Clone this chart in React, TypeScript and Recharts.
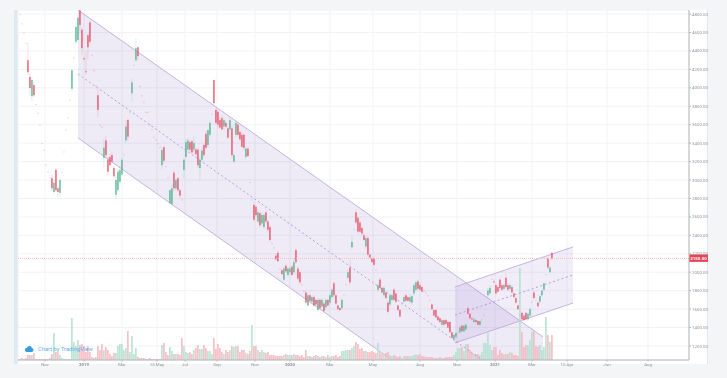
import { Area, Bar, CartesianGrid, ComposedChart, Line, ReferenceLine, XAxis, YAxis } from 'recharts';

const UP = '#45ae85';
const DOWN = '#e9435a';
const CHANNEL = '#c0add9';
const FONT = 'Roboto, "Liberation Sans", sans-serif';

// session index on the x axis, tick label for it
const xTickPositions = [13.5, 33, 52, 69.5, 83.5, 99.5, 118.5, 136, 156, 177.5, 201, 219.5, 238.5, 257, 274.5, 294.5, 315];
const xTickLabels = ['Nov', '2019', 'Mar', '15 May', 'Jul', 'Sep', 'Nov', '2020', 'Mar', 'May', 'Aug', 'Nov', '2021', 'Mar', '15 Apr', 'Jun', 'Aug'];
const yearLabels = ['2019', '2020', '2021'];
const priceTicks = [4800, 4600, 4400, 4200, 4000, 3800, 3600, 3400, 3200, 3000, 2800, 2600, 2400, 2200, 2000, 1800, 1600, 1400, 1200];
const lastPrice = 2150;

// open, high, low, close per session
const candles = [
  [4800, 4805, 4790, 4795], [4700, 4705, 4690, 4695], [4600, 4605, 4590, 4595], [4490, 4495, 4480, 4485], [4300, 4490, 4140, 4170], [4118, 4150, 3910, 3998], [3910, 4120, 3860, 4085], [4030, 4060, 3900, 3920], [3825, 3825, 3810, 3810], [3730, 3730, 3720, 3720],
  [3600, 3600, 3590, 3590], [3400, 3400, 3390, 3390], [3330, 3330, 3320, 3320], [3170, 3170, 3160, 3160], [3090, 3090, 3080, 3080], [3030, 3030, 3020, 3020], [3020, 3060, 2880, 2910], [2870, 3000, 2850, 2970], [3110, 3130, 2870, 2890], [2910, 2930, 2810, 2870],
  [2860, 3020, 2820, 3000], [3080, 3090, 3080, 3090], [3300, 3310, 3300, 3310], [3540, 3550, 3540, 3550], [3670, 3680, 3670, 3680], [3860, 3870, 3860, 3870], [3990, 4210, 3960, 4190], [4320, 4330, 4320, 4330], [4500, 4700, 4470, 4660], [4520, 4790, 4490, 4760],
  [4840, 4845, 4600, 4680], [4630, 4650, 4360, 4430], [4320, 4330, 4300, 4310], [4180, 4400, 4140, 4170], [4570, 4590, 4310, 4440], [4710, 4730, 4480, 4500], [4360, 4360, 4350, 4350], [4190, 4190, 4180, 4180], [4030, 4030, 4020, 4020], [3920, 3990, 3680, 3760],
  [3600, 3600, 3590, 3590], [3580, 3580, 3570, 3570], [3240, 3450, 3140, 3350], [3430, 3480, 3250, 3270], [3220, 3250, 3050, 3090], [3250, 3280, 3150, 3160], [3270, 3300, 3190, 3200], [3130, 3150, 3020, 3040], [2840, 3030, 2790, 3000], [2890, 3120, 2860, 3090],
  [2980, 3150, 2950, 3110], [3060, 3240, 3040, 3220], [3270, 3280, 3270, 3280], [3430, 3650, 3400, 3580], [3650, 3670, 3430, 3470], [3730, 3740, 3730, 3740], [3940, 4100, 3850, 4060], [4240, 4250, 4240, 4250], [4300, 4540, 4280, 4430], [4440, 4450, 4300, 4345],
  [4020, 4020, 4010, 4010], [3920, 3920, 3910, 3910], [3850, 3850, 3840, 3840], [3740, 3740, 3730, 3730], [3740, 3740, 3730, 3730], [3600, 3600, 3590, 3590], [3550, 3550, 3540, 3540], [3470, 3470, 3460, 3460], [3440, 3440, 3430, 3430], [3400, 3400, 3390, 3390],
  [3360, 3360, 3350, 3350], [3160, 3350, 3120, 3325], [3355, 3370, 3180, 3210], [3150, 3150, 3140, 3140], [3030, 3030, 3020, 3020], [2750, 2900, 2740, 2890], [2740, 2960, 2720, 2910], [3080, 3100, 2880, 2910], [2910, 3020, 2890, 3000], [3020, 3030, 2870, 2890],
  [2890, 2900, 2800, 2830], [2790, 2790, 2780, 2780], [3110, 3240, 3020, 3220], [3250, 3440, 3230, 3410], [3330, 3460, 3310, 3430], [3410, 3430, 3300, 3330], [3420, 3440, 3280, 3300], [3330, 3480, 3300, 3400], [3330, 3350, 3270, 3280], [3330, 3350, 3130, 3160],
  [3130, 3260, 3000, 3220], [3220, 3350, 3200, 3320], [3380, 3400, 3250, 3270], [3500, 3530, 3330, 3350], [3380, 3560, 3350, 3540], [3490, 3650, 3470, 3620], [3710, 3720, 3710, 3720], [4085, 4090, 3820, 3835], [3760, 3780, 3600, 3620], [3740, 3760, 3560, 3600],
  [3650, 3680, 3560, 3570], [3670, 3700, 3540, 3550], [3580, 3690, 3540, 3650], [3620, 3640, 3560, 3580], [3560, 3580, 3450, 3460], [3550, 3680, 3520, 3650], [3560, 3590, 3240, 3270], [3200, 3290, 3180, 3270], [3490, 3650, 3470, 3620], [3600, 3620, 3470, 3490],
  [3520, 3540, 3430, 3440], [3490, 3510, 3350, 3360], [3490, 3510, 3320, 3350], [3250, 3360, 3230, 3340], [3340, 3360, 3250, 3260], [2980, 2980, 2970, 2970], [2780, 2790, 2780, 2790], [2730, 2760, 2550, 2570], [2710, 2730, 2600, 2620], [2550, 2680, 2530, 2650],
  [2640, 2660, 2490, 2510], [2530, 2650, 2500, 2620], [2490, 2640, 2470, 2620], [2650, 2680, 2530, 2550], [2550, 2570, 2440, 2460], [2490, 2510, 2330, 2350], [2320, 2320, 2310, 2310], [2270, 2270, 2260, 2260], [2180, 2200, 2130, 2140], [2210, 2230, 2110, 2120],
  [2040, 2040, 2030, 2030], [2020, 2040, 1970, 1980], [1920, 2070, 1900, 2040], [2070, 2090, 2000, 2010], [1970, 2060, 1950, 2040], [2000, 2060, 1980, 2040], [2060, 2080, 1960, 1970], [2000, 2150, 1980, 2110], [2240, 2260, 2090, 2110], [2040, 2060, 1910, 1930],
  [2000, 2020, 1870, 1890], [1870, 1870, 1860, 1860], [1800, 1800, 1790, 1790], [1780, 1800, 1650, 1670], [1640, 1780, 1620, 1750], [1750, 1770, 1680, 1690], [1680, 1750, 1660, 1730], [1730, 1750, 1620, 1640], [1700, 1710, 1640, 1650], [1590, 1720, 1570, 1700],
  [1700, 1720, 1600, 1610], [1630, 1720, 1610, 1700], [1660, 1680, 1570, 1580], [1620, 1720, 1600, 1700], [1700, 1710, 1630, 1640], [1670, 1770, 1650, 1750], [1730, 1830, 1710, 1810], [1880, 1900, 1730, 1750], [1750, 1760, 1640, 1660], [1640, 1650, 1590, 1600],
  [1610, 1620, 1580, 1590], [1610, 1720, 1590, 1700], [1750, 1760, 1750, 1760], [1860, 1870, 1860, 1870], [1940, 2030, 1920, 2000], [2050, 2130, 1870, 1890], [2270, 2400, 2250, 2330], [2460, 2470, 2460, 2470], [2650, 2680, 2520, 2540], [2590, 2610, 2420, 2440],
  [2540, 2560, 2430, 2440], [2480, 2500, 2400, 2420], [2400, 2420, 2340, 2350], [2280, 2390, 2260, 2370], [2370, 2390, 2170, 2190], [2190, 2200, 2150, 2160], [2150, 2160, 2100, 2110], [2150, 2170, 2060, 2080], [2030, 2030, 2020, 2020], [1810, 1890, 1790, 1860],
  [1920, 1940, 1820, 1830], [1830, 1840, 1770, 1780], [1750, 1850, 1730, 1830], [1780, 1800, 1710, 1720], [1670, 1690, 1550, 1570], [1650, 1770, 1630, 1750], [1700, 1770, 1680, 1750], [1810, 1830, 1690, 1700], [1770, 1790, 1670, 1680], [1640, 1650, 1580, 1590],
  [1590, 1600, 1510, 1520], [1640, 1650, 1640, 1650], [1680, 1750, 1660, 1730], [1750, 1770, 1680, 1690], [1730, 1740, 1680, 1690], [1680, 1760, 1660, 1730], [1670, 1760, 1650, 1740], [1770, 1880, 1750, 1860], [1810, 1910, 1790, 1890], [1900, 1920, 1810, 1820],
  [1860, 1880, 1800, 1810], [1840, 1850, 1780, 1790], [1800, 1800, 1790, 1790], [1780, 1780, 1770, 1770], [1750, 1750, 1740, 1740], [1700, 1700, 1690, 1690], [1650, 1660, 1590, 1600], [1590, 1600, 1520, 1530], [1590, 1600, 1500, 1510], [1520, 1530, 1470, 1480],
  [1500, 1510, 1450, 1460], [1430, 1500, 1420, 1480], [1480, 1490, 1420, 1430], [1480, 1490, 1430, 1440], [1460, 1470, 1390, 1400], [1460, 1470, 1340, 1350], [1350, 1360, 1280, 1290], [1270, 1340, 1250, 1320], [1300, 1360, 1280, 1340], [1340, 1350, 1340, 1350],
  [1350, 1420, 1330, 1400], [1420, 1430, 1350, 1360], [1360, 1440, 1340, 1420], [1380, 1450, 1370, 1430], [1610, 1630, 1540, 1550], [1550, 1560, 1490, 1500], [1500, 1510, 1480, 1490], [1460, 1510, 1450, 1490], [1480, 1490, 1450, 1460], [1470, 1480, 1420, 1430],
  [1430, 1480, 1410, 1470], [1480, 1490, 1480, 1490], [1530, 1540, 1530, 1540], [1640, 1650, 1640, 1650], [1750, 1830, 1730, 1800], [1770, 1860, 1750, 1830], [1920, 1930, 1920, 1930], [1900, 1910, 1880, 1890], [1860, 1880, 1750, 1770], [1840, 1850, 1780, 1790],
  [1920, 1940, 1810, 1830], [1860, 1870, 1800, 1810], [1820, 1880, 1800, 1860], [1940, 1990, 1820, 1840], [1860, 1880, 1800, 1810], [1820, 1880, 1800, 1860], [1840, 1860, 1770, 1780], [1770, 1780, 1720, 1730], [1720, 1730, 1660, 1670], [1640, 1650, 1590, 1600],
  [1530, 1540, 1530, 1540], [1560, 1580, 1480, 1490], [1530, 1540, 1470, 1480], [1560, 1570, 1480, 1490], [1490, 1560, 1470, 1550], [1530, 1620, 1510, 1600], [1670, 1680, 1670, 1680], [1780, 1800, 1710, 1720], [1700, 1700, 1690, 1690], [1670, 1680, 1620, 1630],
  [1680, 1760, 1660, 1740], [1750, 1810, 1730, 1800], [1810, 1890, 1790, 1880], [1970, 1980, 1970, 1980], [2150, 2170, 2030, 2050], [2000, 2070, 1980, 2050], [2210, 2220, 2120, 2150],
];

const volumes = [
  1, 2, 1, 2, 5, 5, 5, 7, 1, 1,
  1, 1, 1, 1, 1, 2, 6, 27, 8, 8,
  5, 2, 1, 1, 1, 1, 42, 18, 14, 20,
  15, 16, 14, 8, 14, 8, 3, 2, 3, 14,
  10, 16, 10, 13, 10, 6, 4, 7, 7, 14,
  16, 16, 10, 12, 29, 8, 24, 6, 12, 3,
  2, 2, 2, 1, 1, 2, 1, 1, 1, 1,
  1, 15, 17, 8, 5, 13, 9, 6, 6, 6,
  5, 22, 14, 8, 7, 8, 6, 10, 12, 15,
  11, 11, 15, 12, 9, 9, 6, 22, 11, 16,
  12, 8, 6, 10, 8, 10, 14, 13, 14, 14,
  8, 10, 10, 7, 6, 9, 35, 14, 14, 10,
  8, 10, 8, 7, 8, 5, 5, 5, 4, 4,
  4, 4, 5, 6, 5, 5, 5, 6, 5, 5,
  4, 5, 3, 10, 4, 4, 3, 4, 5, 4,
  3, 4, 4, 3, 5, 3, 4, 4, 5, 3,
  4, 9, 9, 10, 10, 10, 12, 14, 18, 16,
  11, 12, 9, 9, 8, 8, 9, 8, 7, 17,
  8, 6, 6, 7, 8, 5, 4, 5, 4, 3,
  4, 2, 4, 4, 4, 4, 4, 5, 6, 5,
  6, 4, 4, 3, 3, 3, 3, 2, 2, 2,
  3, 2, 2, 3, 3, 3, 3, 5, 8, 12,
  12, 13, 9, 16, 16, 10, 7, 6, 6, 6,
  5, 8, 17, 17, 27, 15, 10, 13, 13, 5,
  10, 7, 6, 6, 6, 8, 7, 5, 5, 4,
  92, 28, 13, 15, 15, 20, 28, 30, 14, 13,
  15, 10, 13, 43, 25, 18, 25,
];

// drawn regression channels: start and end session, then lower, middle and upper price
const downChannel = [
  { session: 30, band: [3456, 4844], middle: 4150 },
  { session: 262.5, band: [-112, 1298], middle: 582 },
];
const upChannel = [
  { session: 218.5, band: [1233, 1840], middle: 1536 },
  { session: 277.5, band: [1666, 2274], middle: 1970 },
];

const rows = candles.map(([open, high, low, close], i) => ({
  session: i + 1,
  open,
  high,
  low,
  close,
  range: [low, high],
  volume: volumes[i],
}));

function CandleShape({ x, y, width, height, payload }: any) {
  const { open, high, low, close } = payload;
  const color = close >= open ? UP : DOWN;
  const h = Math.abs(height);
  const unit = h / (high - low);
  const top = y + (high - Math.max(open, close)) * unit;
  const bodyHeight = Math.max(Math.abs(open - close) * unit, 1);
  const center = x + width / 2;
  if (high - low < 30) {
    return <rect x={center - 0.7} y={top} width={1.4} height={1.1} fill={color} opacity={0.28} />;
  }
  return (
    <g>
      <rect x={center - 0.4} y={y} width={0.8} height={h} fill={color} opacity={0.22} />
      <rect x={center - 0.7} y={top} width={1.4} height={bodyHeight} fill={color} opacity={0.85} />
    </g>
  );
}

function VolumeShape({ x, y, width, height, payload }: any) {
  const color = payload.close >= payload.open ? '#b4e0cf' : '#f6b7c0';
  return <rect x={x + width / 2 - 0.75} y={y} width={1.5} height={height} fill={color} />;
}

function TimeTick({ x, y, payload }: any) {
  const label = xTickLabels[xTickPositions.indexOf(payload.value)];
  const isYear = yearLabels.includes(label);
  return (
    <text x={x} y={y + 2.5} textAnchor="middle" fontSize={4.4} fontFamily={FONT} fontWeight={isYear ? 700 : 400} fill="#8f949b">
      {label}
    </text>
  );
}

function LastPriceLabel({ viewBox }: any) {
  const right = viewBox.x + viewBox.width;
  return (
    <g>
      <rect x={right} y={viewBox.y - 4} width={19} height={7.5} fill="#e9435a" />
      <text x={right + 9.5} y={viewBox.y + 1.4} textAnchor="middle" fontSize={4.4} fontFamily={FONT} fontWeight={700} fill="#ffffff">
        {lastPrice.toFixed(2)}
      </text>
    </g>
  );
}

export default function App() {
  return (
    <div style={{ position: 'absolute', left: 0, top: 0, width: 727, height: 378, overflow: 'hidden', background: '#f3f5f7' }}>
      <div style={{ position: 'absolute', left: 14, top: 10, width: 694, height: 354, background: '#ffffff' }} />
      <div style={{ position: 'absolute', left: 14, top: 10, width: 4, height: 354, background: '#dfe9f2' }} />
      <div style={{ position: 'absolute', left: 707, top: 10, width: 1, height: 354, background: '#dfe9f2' }} />
      <div style={{ position: 'absolute', left: 0, top: 0, filter: 'blur(0.35px)' }}>
        <ComposedChart width={727} height={378} data={rows} margin={{ top: 10, right: 0, bottom: 0, left: 18 }} barSize={2}>
          <CartesianGrid stroke="#f0f3f6" strokeWidth={1} />
          <XAxis
            dataKey="session"
            type="number"
            domain={[0, 335.5]}
            ticks={xTickPositions}
            interval={0}
            height={18}
            tick={<TimeTick />}
            tickSize={1.5}
            stroke="#b4b7ba"
            allowDataOverflow
          />
          <XAxis xAxisId="volume" dataKey="session" type="number" domain={[0, 335.5]} hide />
          <YAxis
            orientation="right"
            domain={[1048, 4844]}
            ticks={priceTicks}
            interval={0}
            width={38}
            tickSize={2}
            tickFormatter={(v: number) => v.toFixed(2)}
            tick={{ fontSize: 4.4, fontFamily: FONT, fill: '#8f949b', textAnchor: 'start' }}
            tickMargin={1}
            stroke="#b4b7ba"
            allowDataOverflow
          />
          <YAxis yAxisId="volume" domain={[0, 350]} hide />
          <Area data={downChannel} dataKey="band" type="linear" stroke={CHANNEL} strokeWidth={0.9} fill="#8e6fc2" fillOpacity={0.15} isAnimationActive={false} dot={false} activeDot={false} />
          <Line data={downChannel} dataKey="middle" type="linear" stroke="#ae97cf" strokeWidth={0.9} strokeDasharray="2 2.5" isAnimationActive={false} dot={false} activeDot={false} />
          <Area data={upChannel} dataKey="band" type="linear" stroke={CHANNEL} strokeWidth={0.9} fill="#8e6fc2" fillOpacity={0.12} isAnimationActive={false} dot={false} activeDot={false} />
          <Line data={upChannel} dataKey="middle" type="linear" stroke="#ae97cf" strokeWidth={0.9} strokeDasharray="2 2.5" isAnimationActive={false} dot={false} activeDot={false} />
          <ReferenceLine y={lastPrice} stroke="#f5bcc4" strokeDasharray="1 1" label={<LastPriceLabel />} />
          <Bar xAxisId="volume" yAxisId="volume" dataKey="volume" shape={<VolumeShape />} isAnimationActive={false} />
          <Bar dataKey="range" shape={<CandleShape />} isAnimationActive={false} />
        </ComposedChart>
      </div>
      <div style={{ position: 'absolute', left: 23, top: 343, width: 12, height: 12, borderRadius: 6, background: '#ffffff', display: 'flex', alignItems: 'center', justifyContent: 'center' }}>
        <svg width="9" height="6" viewBox="0 0 18 12">
          <path d="M4 12a4 4 0 0 1-.5-8A5.5 5.5 0 0 1 14 4.2 4 4 0 0 1 14 12z" fill="#3a9be0" />
        </svg>
      </div>
      <div style={{ position: 'absolute', left: 38, top: 345, fontSize: 5.8, lineHeight: '8px', fontFamily: FONT, color: '#5fb0e8', whiteSpace: 'nowrap' }}>Chart by TradingView</div>
    </div>
  );
}
